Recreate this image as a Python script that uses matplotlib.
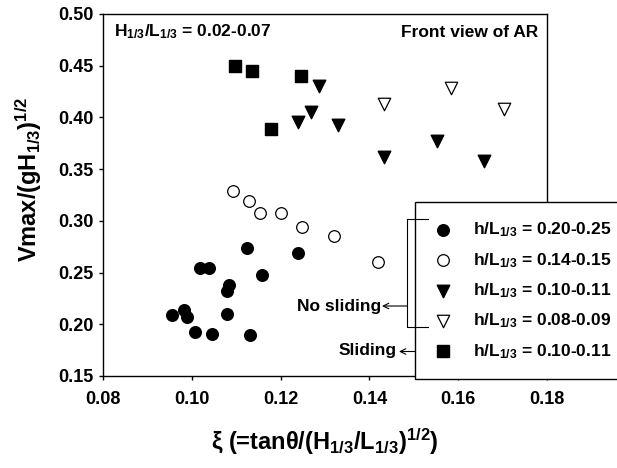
import numpy as np
import matplotlib
matplotlib.use("Agg")
import matplotlib.pyplot as plt
from matplotlib.lines import Line2D

plt.rcParams['font.family'] = ['Liberation Sans', 'DejaVu Sans']
plt.rcParams['font.weight'] = 'bold'
plt.rcParams['mathtext.fontset'] = 'custom'
plt.rcParams['mathtext.rm'] = 'Liberation Sans:bold'
plt.rcParams['mathtext.it'] = 'Liberation Sans:bold'
plt.rcParams['mathtext.bf'] = 'Liberation Sans:bold'
plt.rcParams['mathtext.default'] = 'rm'

# data
xi_fc = [0.1124, 0.1240, 0.1018, 0.1039, 0.1158, 0.1084, 0.1079, 0.0955,
         0.0982, 0.0989, 0.1079, 0.1007, 0.1046, 0.1131]
v_fc = [0.274, 0.269, 0.254, 0.254, 0.248, 0.238, 0.232, 0.209,
        0.214, 0.207, 0.210, 0.193, 0.191, 0.190]
xi_oc = [0.1092, 0.1129, 0.1153, 0.1200, 0.1248, 0.1320, 0.1419]
v_oc = [0.329, 0.319, 0.308, 0.308, 0.294, 0.285, 0.260]
xi_ft = [0.1287, 0.1268, 0.1239, 0.1330, 0.1433, 0.1553, 0.1658]
v_ft = [0.430, 0.405, 0.396, 0.393, 0.362, 0.377, 0.358]
xi_ot = [0.1433, 0.1583, 0.1704]
v_ot = [0.413, 0.428, 0.408]
xi_sq = [0.1097, 0.1136, 0.1246, 0.1178]
v_sq = [0.450, 0.445, 0.440, 0.389]

labels = ['h/L$_{1/3}$ = 0.20-0.25', 'h/L$_{1/3}$ = 0.14-0.15',
          'h/L$_{1/3}$ = 0.10-0.11', 'h/L$_{1/3}$ = 0.08-0.09',
          'h/L$_{1/3}$ = 0.10-0.11']
xticks = [0.08, 0.10, 0.12, 0.14, 0.16, 0.18]
yticks = [0.15, 0.20, 0.25, 0.30, 0.35, 0.40, 0.45, 0.50]

W, H = 617, 468


def P(x, y):
    # image pixel -> figure fraction
    return (x / W, 1 - y / H)


fig = plt.figure(figsize=(W / 100, H / 100), dpi=100)
ax = fig.add_axes([103 / W, (H - 376) / H, 444 / W, 362 / H])

ax.scatter(xi_fc, v_fc, s=70, marker='o', c='black', label=labels[0])
ax.scatter(xi_oc, v_oc, s=70, marker='o', facecolors='white', edgecolors='black', linewidths=0.9, label=labels[1])
ax.scatter(xi_ft, v_ft, s=81, marker='v', c='black', label=labels[2])
ax.scatter(xi_ot, v_ot, s=81, marker='v', facecolors='white', edgecolors='black', linewidths=0.9, label=labels[3])
ax.scatter(xi_sq, v_sq, s=64, marker='s', c='black', label=labels[4])

ax.set_xlim(0.08, 0.18)
ax.set_ylim(0.15, 0.50)
ax.set_xticks(xticks)
ax.set_yticks(yticks)
ax.set_xticklabels(['%.2f' % t for t in xticks])
ax.set_yticklabels(['%.2f' % t for t in yticks])
ax.tick_params(direction='out', length=3, width=1, labelsize=13, pad=4)
ax.tick_params(axis='x', pad=8)
for sp in ax.spines.values():
    sp.set_linewidth(1)

ax.text(0.025, 0.95, 'H$_{1/3}$/L$_{1/3}$ = 0.02-0.07', transform=ax.transAxes,
        fontsize=12.5, ha='left', va='center')
ax.text(0.98, 0.95, 'Front view of AR', transform=ax.transAxes,
        fontsize=12.5, ha='right', va='center')

x0, y0 = P(415, 202)
leg = ax.legend(loc='upper left', bbox_to_anchor=(x0, y0 - 174 / H, (625 - 415) / W, 174 / H),
                bbox_transform=fig.transFigure, mode='expand', borderaxespad=0,
                fontsize=12.5, frameon=True, fancybox=False, framealpha=1,
                edgecolor='black', borderpad=1.07, handlelength=1.08,
                handletextpad=1.18, labelspacing=0.67)
leg.get_frame().set_linewidth(1)

# bracket and arrows
fig.add_artist(Line2D([428 / W, 407 / W, 407 / W, 428 / W],
                      [1 - 219 / H, 1 - 219 / H, 1 - 327 / H, 1 - 327 / H],
                      transform=fig.transFigure, color='black', lw=0.8, zorder=10))
ax.annotate('', xy=P(382, 306), xycoords='figure fraction', xytext=P(407, 306),
            textcoords='figure fraction',
            arrowprops=dict(arrowstyle='->', lw=0.8, color='black', shrinkA=0, shrinkB=0))
ax.annotate('', xy=P(399, 351.5), xycoords='figure fraction', xytext=P(436, 351.5),
            textcoords='figure fraction',
            arrowprops=dict(arrowstyle='->', lw=0.8, color='black', shrinkA=0, shrinkB=0))
fig.text(*P(381, 306), 'No sliding', fontsize=12.5, ha='right', va='center')
fig.text(*P(397, 351), 'Sliding', fontsize=12.5, ha='right', va='center')

fig.text(*P(29, 179), 'Vmax/(gH$_{1/3}$)$^{1/2}$', fontsize=17, rotation=90,
         ha='center', va='center')
fig.text(*P(325, 442), '\u03be (=tan\u03b8/(H$_{1/3}$/L$_{1/3}$)$^{1/2}$)', fontsize=17,
         ha='center', va='center')

fig.savefig('out.png', dpi=100)
